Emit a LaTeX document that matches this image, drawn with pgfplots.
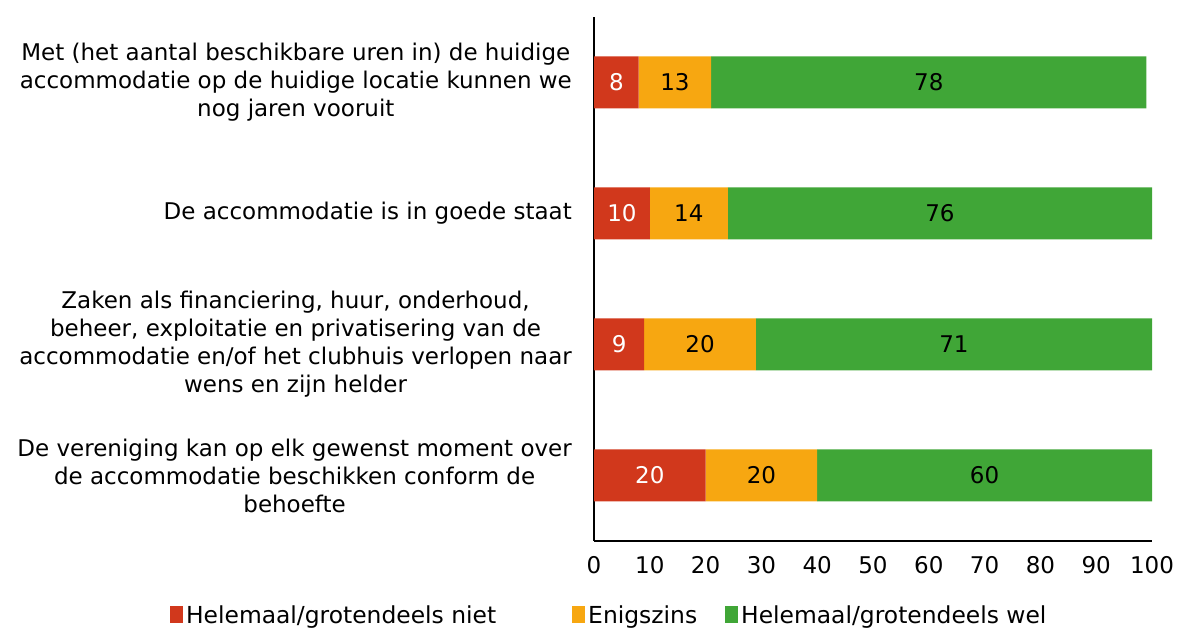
\documentclass[border=0pt]{standalone}
\usepackage{fontspec}
\setmainfont{DejaVu Sans}
\usepackage{pgfplots}
\usepackage{pgfplotstable}
\pgfplotsset{compat=1.18}
\definecolor{cRed}{RGB}{209,56,28}
\definecolor{cOra}{RGB}{247,167,17}
\definecolor{cGre}{RGB}{64,166,55}

\pgfplotstableread{
y niet enig wel
3 8 13 78
2 10 14 76
1 9 20 71
0 20 20 60
}\bars

\pgfplotstableread{
x y m
4 3 8
5 2 10
4.5 1 9
10 0 20
}\whitelabels

\pgfplotstableread{
x y m
14.5 3 13
60 3 78
17 2 14
62 2 76
19 1 20
64.5 1 71
30 0 20
70 0 60
}\blacklabels

\newcommand\fs{\fontsize{23}{28}\selectfont}
\newcommand\fl{\fontsize{23.4}{28}\selectfont}

\pgfplotsset{sq/.style={legend image code/.code={\fill[##1] (0pt,-8pt) rectangle (13pt,9pt);}}}

\begin{document}
\begin{tikzpicture}
\useasboundingbox (0,0) rectangle (1177pt,628pt);
\begin{axis}[
  at={(594pt,87pt)}, anchor=south west,
  scale only axis, width=558pt, height=524pt,
  xmin=0, xmax=100, ymin=-0.5, ymax=3.5,
  xbar stacked, bar width=52pt,
  axis x line*=bottom, axis y line*=left,
  axis line style={line width=1.5pt, black},
  xtick={0,10,...,100}, ytick={0,1,2,3},
  yticklabels={
    {De vereniging kan op elk gewenst moment over\\de accommodatie beschikken conform de\\behoefte},
    {Zaken als financiering, huur, onderhoud,\\beheer, exploitatie en privatisering van de\\accommodatie en/of het clubhuis verlopen naar\\wens en zijn helder},
    {De accommodatie is in goede staat},
    {Met (het aantal beschikbare uren in) de huidige\\accommodatie op de huidige locatie kunnen we\\nog jaren vooruit}},
  tick style={draw=none},
  tick label style={font=\fs},
  /pgf/number format/assume math mode=true,
  yticklabel style={align=center, inner sep=0pt, xshift=-22pt},
  xticklabel style={inner sep=0pt, yshift=-15pt},
  legend columns=3,
  legend style={draw=none, fill=none, at={(-0.760,-0.141)}, anchor=west,
    font=\fl, inner sep=0pt, nodes={inner sep=3pt},
    /tikz/column 2/.style={column sep=73pt},
    /tikz/column 4/.style={column sep=25pt}},
]
\addplot[fill=cRed, draw=none, sq] table[x=niet, y=y] {\bars};
\addplot[fill=cOra, draw=none, sq] table[x=enig, y=y] {\bars};
\addplot[fill=cGre, draw=none, sq] table[x=wel, y=y] {\bars};
\legend{Helemaal/grotendeels niet, Enigszins, Helemaal/grotendeels wel}
\end{axis}
\begin{axis}[
  at={(594pt,87pt)}, anchor=south west,
  scale only axis, width=558pt, height=524pt,
  xmin=0, xmax=100, ymin=-0.5, ymax=3.5,
  hide axis,
]
\addplot[only marks, mark=none, nodes near coords, point meta=explicit symbolic,
  nodes near coords style={anchor=center, font=\fs, text=white}]
  table[x=x, y=y, meta=m] {\whitelabels};
\addplot[only marks, mark=none, nodes near coords, point meta=explicit symbolic,
  nodes near coords style={anchor=center, font=\fs, text=black}]
  table[x=x, y=y, meta=m] {\blacklabels};
\end{axis}
\end{tikzpicture}
\end{document}
